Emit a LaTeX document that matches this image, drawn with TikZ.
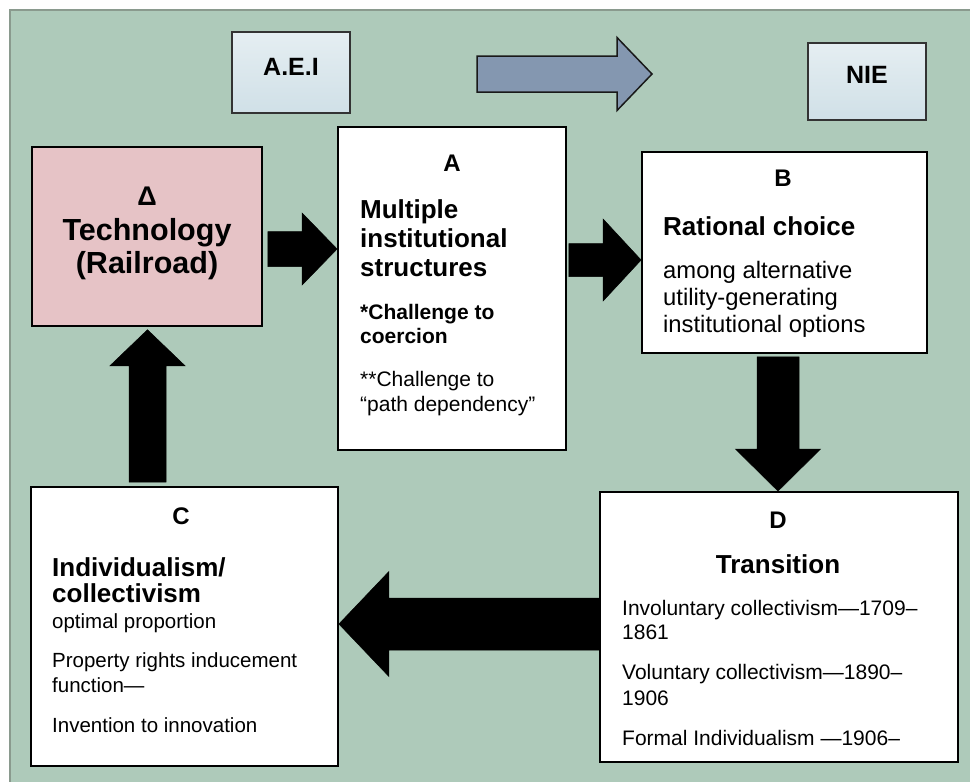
\documentclass[tikz,border=0pt]{standalone}
\usepackage{fontspec}
\setmainfont{Liberation Sans}
\usetikzlibrary{calc,fit}

\definecolor{panelgreen}{RGB}{174,202,186}
\definecolor{framegrey}{RGB}{138,154,142}
\definecolor{techpink}{RGB}{230,195,198}
\definecolor{labeltop}{RGB}{229,238,242}
\definecolor{labelbot}{RGB}{208,224,231}
\definecolor{steelblue}{RGB}{132,151,176}

% Block arrow from #2 (tail) to #3 (tip):
% #4 half shaft width, #5 half head width, #6 head length
\newcommand\fatarrow[6][]{%
  \coordinate (fa-neck) at ($(#3)!#6!(#2)$);
  \filldraw[#1] ($(#2)!#4!90:(#3)$) -- ($(fa-neck)!#4!90:(#3)$)
    -- ($(fa-neck)!#5!90:(#3)$) -- (#3) -- ($(fa-neck)!#5!-90:(#3)$)
    -- ($(fa-neck)!#4!-90:(#3)$) -- ($(#2)!#4!-90:(#3)$) -- cycle;
}

\newcommand\hd{\fontsize{26}{30}\selectfont\bfseries}
\newcommand\lbl{\fontsize{24}{28}\selectfont\bfseries}
\newcommand\bodyA{\fontsize{21}{24}\selectfont}
\newcommand\bodyB{\fontsize{23.8}{27}\selectfont}
\newcommand\bodyC{\fontsize{20.5}{24}\selectfont}

\tikzset{
  box/.style={draw=black, line width=1.8pt, fill=white, inner sep=0pt},
  techbox/.style={draw=black, line width=1.5pt, fill=techpink, inner sep=0pt},
  tagbox/.style={draw=black!80, line width=1.2pt, top color=labeltop,
    bottom color=labelbot, inner sep=0pt},
  txt/.style={inner sep=0pt, anchor=base west},
  ctr/.style={inner sep=0pt, anchor=base},
  blackarrow/.style={fill=black, draw=black, line width=0.5pt, line join=miter},
  bluearrow/.style={fill=steelblue, draw=black!90, line width=1.5pt, line join=miter},
}

\begin{document}
\begin{tikzpicture}[x=1pt, y=-1pt]
  \useasboundingbox (0,0) rectangle (970,782);
  \fill[white] (0,0) rectangle (970,782);
  % green panel with grey frame (right and bottom edges run off the page)
  \draw[framegrey, line width=2.5pt, fill=panelgreen] (10,10) rectangle (995,805);

  % top tags
  \node[tagbox, fit={(232,32) (350,113)}] (aei) {};
  \node[tagbox, fit={(808,43) (926,120)}] (nie) {};
  \node[ctr, font=\fontsize{25}{28}\selectfont\bfseries] (aei-t) at (291,75) {A.E.I};
  \node[ctr, font=\fontsize{25}{28}\selectfont\bfseries] (nie-t) at (867,83) {NIE};
  \coordinate (shift-tail) at (477,74);
  \coordinate (shift-tip) at (652,74);
  \fatarrow[bluearrow]{shift-tail}{shift-tip}{18pt}{36.5pt}{35pt}

  % boxes
  \node[techbox, fit={(32,147) (262,326)}] (tech) {};
  \node[box, fit={(338,127) (566,450)}] (A) {};
  \node[box, fit={(642,152) (927,353)}] (B) {};
  \node[box, fit={(31,487) (338,766)}] (C) {};
  \node[box, fit={(600,492) (958,762)}] (D) {};

  % technology box text
  \node[ctr, font=\fontsize{27}{30}\selectfont\bfseries] (tech-1) at (147,205) {Δ};
  \node[ctr, font=\fontsize{30.5}{34}\selectfont\bfseries] (tech-2) at (147,240) {Technology};
  \node[ctr, font=\fontsize{30.5}{34}\selectfont\bfseries] (tech-3) at (147,273) {(Railroad)};

  % box A text
  \node[ctr, font=\lbl] (A-0) at (452,171) {A};
  \node[txt, font=\hd] (A-1) at (360,218) {Multiple};
  \node[txt, font=\hd] (A-2) at (360,247) {institutional};
  \node[txt, font=\hd] (A-3) at (360,276) {structures};
  \node[txt, font=\bodyA\bfseries] (A-4) at (360,319) {*Challenge to};
  \node[txt, font=\bodyA\bfseries] (A-5) at (360,343) {coercion};
  \node[txt, font=\bodyA] (A-6) at (360,386) {**Challenge to};
  \node[txt, font=\bodyA] (A-7) at (360,411) {“path dependency”};

  % box B text
  \node[ctr, font=\lbl] (B-0) at (783,186) {B};
  \node[txt, font=\hd] (B-1) at (663,235) {Rational choice};
  \node[txt, font=\bodyB] (B-2) at (663,278) {among alternative};
  \node[txt, font=\bodyB] (B-3) at (663,305) {utility-generating};
  \node[txt, font=\bodyB] (B-4) at (663,332) {institutional options};

  % box C text
  \node[ctr, font=\lbl] (C-0) at (181,524) {C};
  \node[txt, font=\hd] (C-1) at (52,576) {Individualism/};
  \node[txt, font=\hd] (C-2) at (52,602) {collectivism};
  \node[txt, font=\bodyC] (C-3) at (52,628) {optimal proportion};
  \node[txt, font=\bodyC] (C-4) at (52,667) {Property rights inducement};
  \node[txt, font=\bodyC] (C-5) at (52,692) {function—};
  \node[txt, font=\bodyC] (C-6) at (52,732) {Invention to innovation};

  % box D text
  \node[ctr, font=\lbl] (D-0) at (778,528) {D};
  \node[ctr, font=\hd] (D-1) at (778,573) {Transition};
  \node[txt, font=\bodyA] (D-2) at (622,615) {Involuntary collectivism—1709–};
  \node[txt, font=\bodyA] (D-3) at (622,639) {1861};
  \node[txt, font=\bodyA] (D-4) at (622,679) {Voluntary collectivism—1890–};
  \node[txt, font=\bodyA] (D-5) at (622,705) {1906};
  \node[txt, font=\bodyA] (D-6) at (622,745) {Formal Individualism —1906–};

  % block arrows around the cycle
  \coordinate (t-a-tail) at ($(tech.east |- 0,249)+(5,0)$);
  \coordinate (t-a-tip)  at (A.west |- 0,249);
  \fatarrow[blackarrow]{t-a-tail}{t-a-tip}{17.5pt}{36pt}{35pt}

  \coordinate (a-b-tail) at ($(A.east |- 0,260)+(2,0)$);
  \coordinate (a-b-tip)  at (B.west |- 0,260);
  \fatarrow[blackarrow]{a-b-tail}{a-b-tip}{16.5pt}{41pt}{38pt}

  \coordinate (b-d-tail) at ($(B.south -| 778,0)+(0,3)$);
  \coordinate (b-d-tip)  at (D.north -| 778,0);
  \fatarrow[blackarrow]{b-d-tail}{b-d-tip}{21pt}{42.5pt}{42pt}

  \coordinate (d-c-tail) at (D.west |- 0,624);
  \coordinate (d-c-tip)  at (C.east |- 0,624);
  \fatarrow[blackarrow]{d-c-tail}{d-c-tip}{26pt}{52.5pt}{50pt}

  \coordinate (c-t-tail) at ($(C.north -| 147.5,0)+(0,-4)$);
  \coordinate (c-t-tip)  at ($(tech.south -| 147.5,0)+(0,3)$);
  \fatarrow[blackarrow]{c-t-tail}{c-t-tip}{18.5pt}{37.5pt}{36pt}
\end{tikzpicture}
\end{document}
